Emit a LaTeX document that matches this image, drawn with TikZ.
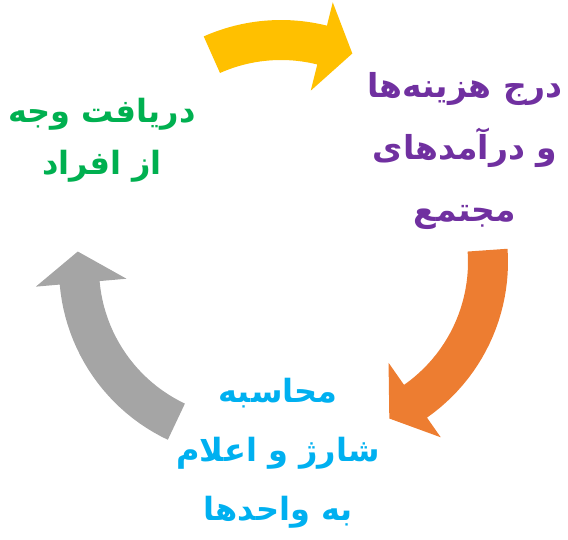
\documentclass[tikz,border=0pt]{standalone}
\usepackage{fontspec}
\usepackage{xcolor}
\newfontfamily\farsi[Script=Arabic]{DejaVu Sans}
\TeXXeTstate=1
\usetikzlibrary{positioning}
\definecolor{paygreen}{HTML}{00B050}
\definecolor{costpurple}{HTML}{7030A0}
\definecolor{chargeblue}{HTML}{00B0F0}
\definecolor{arrgold}{HTML}{FFC000}
\definecolor{arrorange}{HTML}{ED7D31}
\definecolor{arrgray}{HTML}{A5A5A5}
\newcommand{\fa}[1]{\beginR #1\endR}
% curved block arrow: centre x, centre y, tail angle, head angle, colour
\newcommand{\cyclearrow}[5]{%
  \fill[#5] plot[domain=#3:#4, samples=25] ({#1+190*cos(\x)}, {#2+190*sin(\x)})
    -- ({#1+214*cos(#4)}, {#2+214*sin(#4)})
    -- ({#1+172*cos(#4+10.5)}, {#2+172*sin(#4+10.5)})
    -- ({#1+123*cos(#4)}, {#2+123*sin(#4)})
    -- plot[domain=#4:#3, samples=25] ({#1+150*cos(\x)}, {#2+150*sin(\x)}) -- cycle;}
\tikzset{
  steptxt/.style={align=center, inner sep=0pt, font=\farsi\bfseries\fontsize{32}{58}\selectfont},
}

\begin{document}
\begin{tikzpicture}[x=1pt, y=-1pt]
\useasboundingbox (0,0) rectangle (568,539);
\cyclearrow{281}{210}{-114}{-76}{arrgold}
\cyclearrow{318}{262}{-4}{55}{arrorange}
\cyclearrow{249}{268}{115.3}{175}{arrgray}
\node[steptxt, text=paygreen, font=\farsi\bfseries\fontsize{32}{52}\selectfont] (pay) at (102,140) {\fa{دریافت وجه}\\\fa{از افراد}};
\node[steptxt, text=costpurple, font=\farsi\bfseries\fontsize{33}{62}\selectfont] (cost) at (465,151) {\fa{درج هزینه‌ها}\\\fa{و درآمدهای}\\\fa{مجتمع}};
\node[steptxt, text=chargeblue, font=\farsi\bfseries\fontsize{32}{59}\selectfont] (charge) at (278,453) {\fa{محاسبه}\\\fa{شارژ و اعلام}\\\fa{به واحدها}};
\end{tikzpicture}
\end{document}
